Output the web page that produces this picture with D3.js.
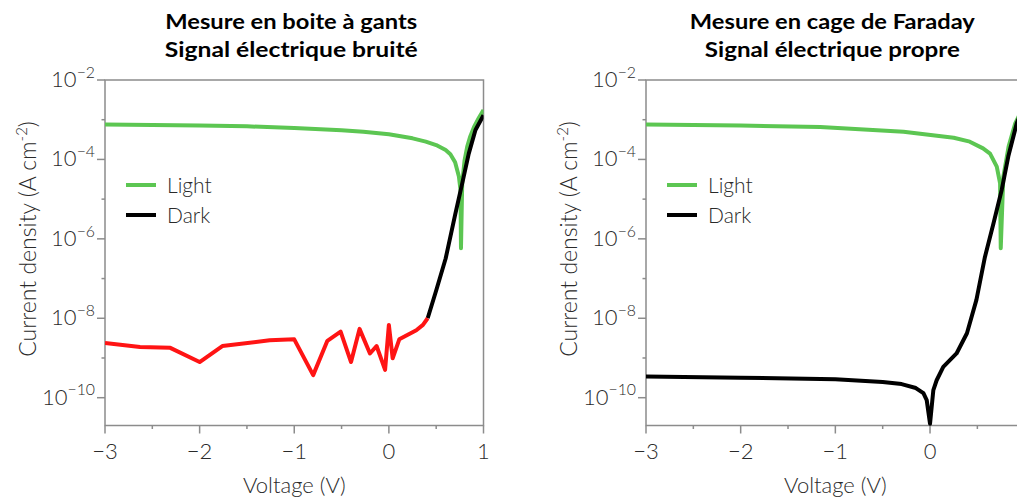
<!DOCTYPE html>
<html><head><meta charset="utf-8">
<script src="https://cdn.jsdelivr.net/npm/d3@7"></script>
<style>
body{margin:0;background:#fff;}
svg{display:block;}
text{font-family:Lato,"Open Sans",sans-serif;}
</style></head>
<body><svg id="chart" width="1017" height="497"></svg>
<script>
// ---------- data ----------
const titlesLeft = ["Mesure en boite à gants", "Signal électrique bruité"];
const titlesRight = ["Mesure en cage de Faraday", "Signal électrique propre"];
const xTicks = [-3, -2, -1, 0, 1];
const xMinorTicks = [-2.5, -1.5, -0.5, 0.5];
const yTickExps = [-2, -4, -6, -8, -10];
const yMinorExps = [-3, -5, -7, -9];
const legendLabels = ["Light", "Dark"];

// Left panel (glove box): light curve
const leftLightV = [-3, -2.5, -2, -1.5, -1, -0.5, -0.27, 0, 0.25, 0.39, 0.5, 0.6, 0.65, 0.7, 0.74, 0.757, 0.762, 0.775, 0.8, 0.828, 0.86, 0.9, 0.95, 1.0];
const leftLightJ = [7.6e-4, 7.4e-4, 7.1e-4, 6.8e-4, 6.2e-4, 5.4e-4, 5.0e-4, 4.3e-4, 3.4e-4, 2.8e-4, 2.3e-4, 1.72e-4, 1.35e-4, 8.5e-5, 3.7e-5, 1.7e-5, 5.8e-7, 2.5e-5, 9.5e-5, 2.1e-4, 3.8e-4, 6.6e-4, 1.1e-3, 1.75e-3];
// Left panel: dark curve, noisy part (red)
const leftNoiseV = [-3, -2.63, -2.31, -2.0, -1.76, -1.26, -1.0, -0.80, -0.65, -0.51, -0.40, -0.31, -0.20, -0.13, -0.04, 0.0, 0.04, 0.11, 0.29, 0.36, 0.41];
const leftNoiseJ = [2.4e-9, 1.9e-9, 1.8e-9, 7.9e-10, 2.0e-9, 2.8e-9, 2.95e-9, 3.7e-10, 2.7e-9, 4.6e-9, 7.9e-10, 5.4e-9, 1.3e-9, 2.0e-9, 5.0e-10, 6.8e-9, 9.8e-10, 2.95e-9, 5.0e-9, 6.8e-9, 1.0e-8];
// Left panel: dark curve, clean part (black)
const leftDarkV = [0.41, 0.5, 0.6, 0.7, 0.775, 0.844, 0.915, 1.0];
const leftDarkJ = [1.0e-8, 5.0e-8, 3.2e-7, 4.0e-6, 2.5e-5, 1.4e-4, 5.5e-4, 1.3e-3];

// Right panel (Faraday cage): light curve
const rightLightV = [-3, -2, -1.16, -0.28, 0.25, 0.42, 0.56, 0.634, 0.705, 0.74, 0.747, 0.774, 0.83, 0.90, 1.0];
const rightLightJ = [7.6e-4, 7.1e-4, 6.6e-4, 5.0e-4, 3.5e-4, 2.8e-4, 1.9e-4, 1.4e-4, 6.6e-5, 2.5e-5, 5.8e-7, 3.6e-5, 2.1e-4, 8.1e-4, 2.5e-3];
// Right panel: dark curve
const rightDarkV = [-3, -2, -1, -0.5, -0.3, -0.15, -0.07, -0.035, 0, 0.035, 0.07, 0.14, 0.28, 0.39, 0.49, 0.58, 0.67, 0.757, 0.827, 0.916, 1.0];
const rightDarkJ = [3.4e-10, 3.2e-10, 2.9e-10, 2.5e-10, 2.2e-10, 1.75e-10, 1.3e-10, 8.7e-11, 2.2e-11, 1.55e-10, 2.75e-10, 6.0e-10, 1.3e-9, 4.2e-9, 2.9e-8, 3.5e-7, 2.45e-6, 1.7e-5, 1.2e-4, 8.1e-4, 2.5e-3];

// ---------- drawing ----------
const W = 1017;
const svg = d3.select("#chart");
const GREEN = "#5cc652", RED = "#ff1414", BLACK = "#000", AXIS = "#8c8c8c", TXT = "#2a2a2a";
const yTop = 80, yBottom = 425.5;
const y = d3.scaleLog().domain([Math.pow(10, -10.7), 1e-2]).range([yBottom, yTop]);

function supLabel(sel, exp, size) {
  sel.append("tspan").text("10");
  sel.append("tspan").attr("dy", -size * 0.42).attr("font-size", size * 0.72).text("−" + Math.abs(exp));
}

function panel(x0, x1, titles, titleWidths, lightV, lightJ, darkSegments, yLabelX) {
  const x = d3.scaleLinear().domain([-3, 1]).range([x0, x1]);
  const g = svg.append("g");
  // frame
  g.append("rect").attr("x", x0).attr("y", yTop).attr("width", x1 - x0).attr("height", yBottom - yTop)
    .attr("fill", "none").attr("stroke", AXIS).attr("stroke-width", 1.5);
  // x ticks
  xTicks.forEach(v => g.append("line").attr("x1", x(v)).attr("x2", x(v)).attr("y1", yBottom).attr("y2", yBottom + 8)
    .attr("stroke", AXIS).attr("stroke-width", 1.5));
  xMinorTicks.forEach(v => g.append("line").attr("x1", x(v)).attr("x2", x(v)).attr("y1", yBottom).attr("y2", yBottom + 3.5)
    .attr("stroke", AXIS).attr("stroke-width", 1.5));
  xTicks.filter(v => x(v) + 6 <= W).forEach(v => g.append("text").attr("x", x(v)).attr("y", yBottom + 33).attr("text-anchor", "middle")
    .attr("font-size", 22).attr("font-weight", 300).attr("fill", TXT).text(v < 0 ? "−" + Math.abs(v) : String(v)));
  // y ticks
  yTickExps.forEach(e => g.append("line").attr("x1", x0 - 8).attr("x2", x0).attr("y1", y(Math.pow(10, e))).attr("y2", y(Math.pow(10, e)))
    .attr("stroke", AXIS).attr("stroke-width", 1.5));
  yMinorExps.forEach(e => g.append("line").attr("x1", x0 - 3.5).attr("x2", x0).attr("y1", y(Math.pow(10, e))).attr("y2", y(Math.pow(10, e)))
    .attr("stroke", AXIS).attr("stroke-width", 1.5));
  yTickExps.forEach(e => {
    const t = g.append("text").attr("x", x0 - 10).attr("y", y(Math.pow(10, e)) + 7).attr("text-anchor", "end")
      .attr("font-size", 22).attr("font-weight", 300).attr("fill", TXT);
    supLabel(t, e, 22);
  });
  // axis labels
  g.append("text").attr("x", (x0 + x1) / 2).attr("y", 493).attr("text-anchor", "middle")
    .attr("font-size", 22).attr("font-weight", 300).attr("fill", TXT).text("Voltage (V)");
  const yl = g.append("text").attr("transform", `translate(${yLabelX},${239}) rotate(-90)`)
    .attr("text-anchor", "middle").attr("font-size", 23).attr("font-weight", 300).attr("fill", TXT);
  yl.append("tspan").text("Current density (A cm");
  yl.append("tspan").attr("dy", -9).attr("font-size", 15).text("-2");
  yl.append("tspan").attr("dy", 9).text(")");
  // titles
  titles.forEach((t, i) => g.append("text").attr("x", (x0 + x1) / 2 - 3).attr("y", 29 + i * 28).attr("text-anchor", "middle")
    .attr("font-family", "'Open Sans', sans-serif").attr("font-weight", 700).attr("font-size", 21.5).attr("fill", "#000")
    .attr("textLength", titleWidths[i]).attr("lengthAdjust", "spacingAndGlyphs").text(t));
  // lines
  const line = d3.line().x(d => x(d[0])).y(d => y(d[1]));
  const clipId = "clip" + Math.round(x0);
  g.append("clipPath").attr("id", clipId).append("rect").attr("x", x0).attr("y", yTop).attr("width", x1 - x0).attr("height", yBottom - yTop + 2);
  const lg = g.append("g").attr("clip-path", `url(#${clipId})`);
  lg.append("path").datum(d3.zip(lightV, lightJ)).attr("d", line).attr("fill", "none").attr("stroke", GREEN)
    .attr("stroke-width", 4).attr("stroke-linejoin", "round");
  darkSegments.forEach(s => lg.append("path").datum(d3.zip(s.v, s.j)).attr("d", line).attr("fill", "none")
    .attr("stroke", s.color).attr("stroke-width", 4).attr("stroke-linejoin", "round"));
  // legend
  const lx = x0 + 21;
  [GREEN, BLACK].forEach((c, i) => {
    const ly = 185 + i * 30;
    g.append("line").attr("x1", lx).attr("x2", lx + 30).attr("y1", ly).attr("y2", ly).attr("stroke", c).attr("stroke-width", 4);
    g.append("text").attr("x", lx + 41).attr("y", ly + 7.5).attr("font-size", 21).attr("font-weight", 300).attr("fill", TXT).text(legendLabels[i]);
  });
}

panel(105, 483.5, titlesLeft, [252, 253], leftLightV, leftLightJ,
  [{v: leftDarkV, j: leftDarkJ, color: BLACK}, {v: leftNoiseV, j: leftNoiseJ, color: RED}], 36);
panel(646, 1024.7, titlesRight, [285, 255], rightLightV, rightLightJ,
  [{v: rightDarkV, j: rightDarkJ, color: BLACK}], 577);
</script></body></html>
